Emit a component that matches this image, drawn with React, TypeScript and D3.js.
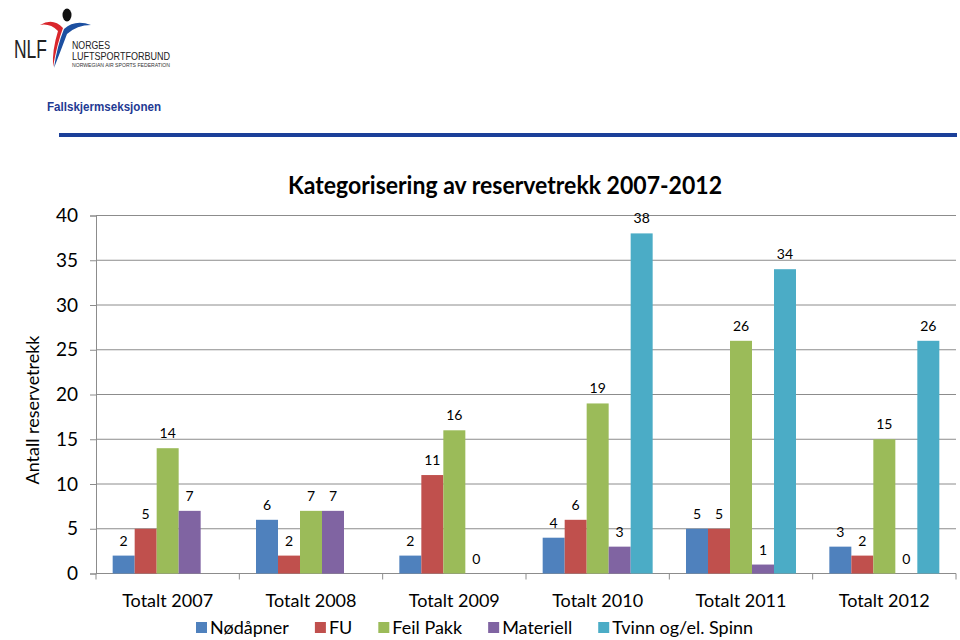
import React, { useEffect, useRef } from "react";
import * as d3 from "d3";

const categories = ["Totalt 2007", "Totalt 2008", "Totalt 2009", "Totalt 2010", "Totalt 2011", "Totalt 2012"];
const seriesNames = ["Nødåpner", "FU", "Feil Pakk", "Materiell", "Tvinn og/el. Spinn"];
const seriesColors = ["#4F81BD", "#C0504D", "#9BBB59", "#8064A2", "#4BACC6"];
const nodapner = [2, 6, 2, 4, 5, 3];
const fu = [5, 2, 11, 6, 5, 2];
const feilPakk = [14, 7, 16, 19, 26, 15];
const materiell = [7, 7, 0, 3, 1, 0];
const tvinn: (number | null)[] = [null, null, null, 38, 34, 26];
const yTicks = [0, 5, 10, 15, 20, 25, 30, 35, 40];
const title = "Kategorisering av reservetrekk 2007-2012";
const yTitle = "Antall reservetrekk";

const FONT = "Lato, 'Open Sans', sans-serif";

export default function App() {
  const ref = useRef<SVGSVGElement>(null);

  useEffect(() => {
    const svg = d3.select(ref.current);
    svg.selectAll("*").remove();

    const allSeries = [nodapner, fu, feilPakk, materiell, tvinn];

    // Header
    const hdr = svg.append("g");
    hdr.append("path")
      .attr("d", "M40,25 Q53,17 63,28 Q57,44 53,67 Q52,50 58,31 Q50,23 40,25 Z")
      .attr("fill", "#d9262c");
    hdr.append("path")
      .attr("d", "M91,25 Q75,19 64,29 Q57,46 54,68 Q61,50 67,34 Q77,25 91,25 Z")
      .attr("fill", "#1c4fa0");
    hdr.append("ellipse").attr("cx", 67).attr("cy", 15).attr("rx", 4.5).attr("ry", 6.5).attr("fill", "#111");
    hdr.append("text").attr("x", 14).attr("y", 58).attr("font-family", "'Liberation Sans', Arial, sans-serif")
      .attr("font-size", 25).attr("fill", "#222").attr("textLength", 33).attr("lengthAdjust", "spacingAndGlyphs").text("NLF");
    hdr.append("text").attr("x", 72).attr("y", 49).attr("font-family", "'Liberation Sans', Arial, sans-serif")
      .attr("font-size", 11).attr("fill", "#222").attr("textLength", 38).attr("lengthAdjust", "spacingAndGlyphs").text("NORGES");
    hdr.append("text").attr("x", 72).attr("y", 60).attr("font-family", "'Liberation Sans', Arial, sans-serif")
      .attr("font-size", 11).attr("fill", "#222").attr("textLength", 98).attr("lengthAdjust", "spacingAndGlyphs").text("LUFTSPORTFORBUND");
    hdr.append("text").attr("x", 72).attr("y", 66.5).attr("font-family", "'Liberation Sans', Arial, sans-serif")
      .attr("font-size", 5.5).attr("fill", "#333").attr("textLength", 98).attr("lengthAdjust", "spacingAndGlyphs").text("NORWEGIAN AIR SPORTS FEDERATION");
    hdr.append("text").attr("x", 47).attr("y", 111).attr("font-family", "'Liberation Sans', Arial, sans-serif")
      .attr("font-size", 13).attr("font-weight", "bold").attr("fill", "#1f3a93")
      .attr("textLength", 114).attr("lengthAdjust", "spacingAndGlyphs").text("Fallskjermseksjonen");
    hdr.append("rect").attr("x", 59).attr("y", 133).attr("width", 898).attr("height", 4).attr("fill", "#1b3f99");

    // Chart
    const left = 96, right = 956, top = 215.5, bottom = 573.5;
    const x0 = d3.scaleBand<string>().domain(categories).range([left, right]).paddingInner(0).paddingOuter(0);
    const x1 = d3.scaleBand<string>().domain(seriesNames).range([0, x0.bandwidth()]).paddingInner(0).paddingOuter(0.758);
    const y = d3.scaleLinear().domain([0, 40]).range([bottom, top]);

    // gridlines
    svg.append("g").selectAll("line").data(yTicks.filter((t) => t > 0)).join("line")
      .attr("x1", left).attr("x2", right).attr("y1", (d) => y(d)).attr("y2", (d) => y(d))
      .attr("stroke", "#8c8c8c").attr("stroke-width", 1);

    // y axis
    const yAxis = d3.axisLeft(y).tickValues(yTicks).tickSize(6).tickPadding(12).tickFormat(d3.format("d"));
    const ya = svg.append("g").attr("transform", `translate(${left},0)`).call(yAxis);
    ya.selectAll("path,line").attr("stroke", "#8c8c8c");
    ya.selectAll("text").attr("font-family", FONT).attr("font-size", 19).attr("fill", "#000");

    // x axis
    const xa = svg.append("g").attr("transform", `translate(0,${bottom})`);
    xa.append("line").attr("x1", left).attr("x2", right).attr("stroke", "#8c8c8c");
    const boundaries = categories.map((c) => x0(c)!).concat([right]);
    xa.selectAll("line.tk").data(boundaries).join("line").attr("class", "tk")
      .attr("x1", (d) => d).attr("x2", (d) => d).attr("y1", 0).attr("y2", 6).attr("stroke", "#8c8c8c");
    xa.selectAll("text").data(categories).join("text")
      .attr("x", (d) => x0(d)! + x0.bandwidth() / 2).attr("y", 33)
      .attr("text-anchor", "middle").attr("font-family", FONT).attr("font-size", 18).attr("fill", "#000")
      .text((d) => d);

    // bars
    const bars = svg.append("g");
    allSeries.forEach((vals, si) => {
      const name = seriesNames[si];
      const pts = categories.map((c, i) => ({ c, v: vals[i] })).filter((p) => p.v !== null) as { c: string; v: number }[];
      bars.append("g").selectAll("rect").data(pts).join("rect")
        .attr("x", (d) => x0(d.c)! + x1(name)!)
        .attr("width", x1.bandwidth())
        .attr("y", (d) => y(d.v))
        .attr("height", (d) => bottom - y(d.v))
        .attr("fill", seriesColors[si]);
      bars.append("g").selectAll("text").data(pts).join("text")
        .attr("x", (d) => x0(d.c)! + x1(name)! + x1.bandwidth() / 2)
        .attr("y", (d) => y(d.v) - 10)
        .attr("text-anchor", "middle").attr("font-family", FONT).attr("font-size", 14).attr("fill", "#000")
        .text((d) => String(d.v));
    });

    // titles
    svg.append("text").attr("x", 505).attr("y", 194).attr("text-anchor", "middle")
      .attr("font-family", FONT).attr("font-weight", "bold").attr("font-size", 24).attr("fill", "#000")
      .attr("textLength", 434).attr("lengthAdjust", "spacingAndGlyphs").text(title);
    svg.append("text").attr("transform", `translate(39,410) rotate(-90)`).attr("text-anchor", "middle")
      .attr("font-family", FONT).attr("font-size", 18).attr("fill", "#000").text(yTitle);

    // legend
    const lg = svg.append("g");
    let lx = 196;
    seriesNames.forEach((name, i) => {
      lg.append("rect").attr("x", lx).attr("y", 622).attr("width", 11).attr("height", 11).attr("fill", seriesColors[i]);
      const t = lg.append("text").attr("x", lx + 14).attr("y", 634).attr("font-family", FONT)
        .attr("font-size", 18).attr("fill", "#000").text(name);
      const w = (t.node() as SVGTextElement).getComputedTextLength();
      lx = lx + 14 + w + 26;
    });
  }, []);

  return (
    <svg ref={ref} width={960} height={640} style={{ position: "absolute", left: 0, top: 0, background: "#fff" }} />
  );
}
